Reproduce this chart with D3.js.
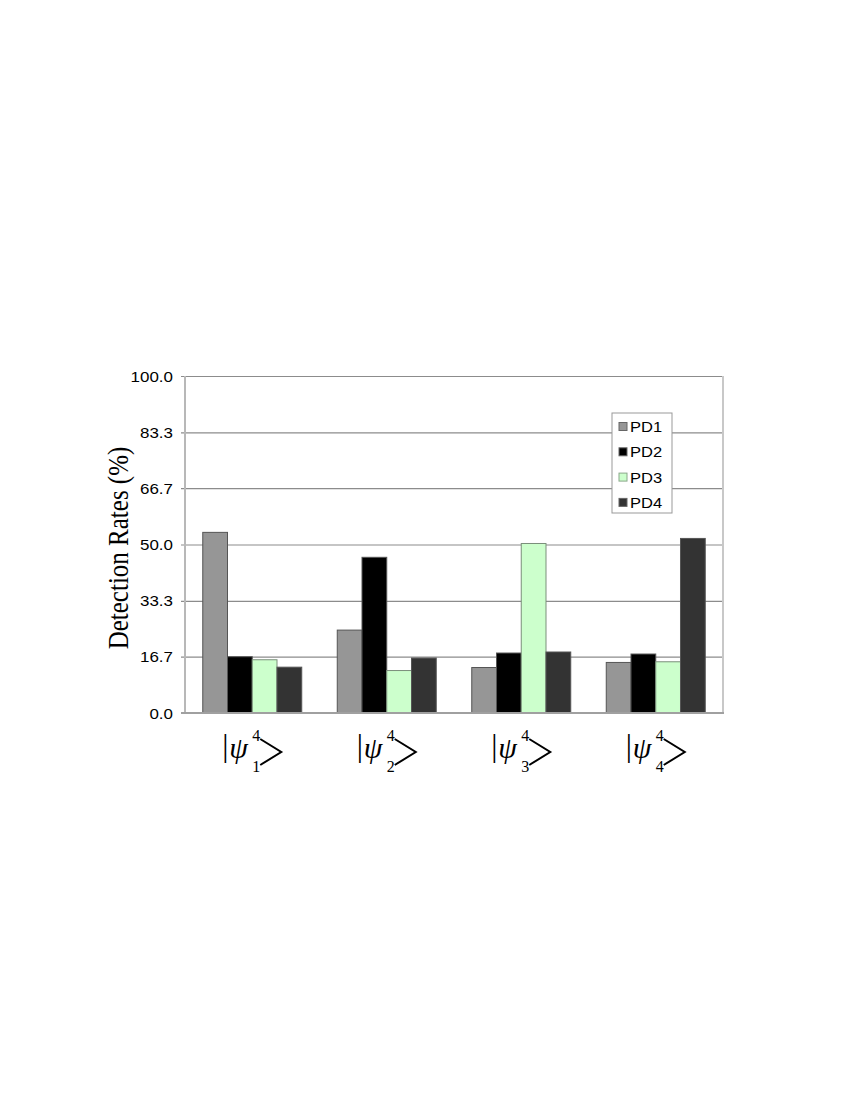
<!DOCTYPE html>
<html>
<head>
<meta charset="utf-8">
<script src="https://cdn.jsdelivr.net/npm/d3@7"></script>
<style>
  body { margin: 0; background: #fff; }
  .tick-label { font-family: "Liberation Sans", Arial, sans-serif; font-size: 15px; fill: #000; }
  .legend-label { font-family: "Liberation Sans", Arial, sans-serif; font-size: 14px; fill: #000; }
  .ket { font-family: "Liberation Serif", "Times New Roman", serif; fill: #000; }
</style>
</head>
<body>
<div id="chart"></div>
<script>
// data
var states = ["1", "2", "3", "4"];
var seriesNames = ["PD1", "PD2", "PD3", "PD4"];
var pd1 = [53.6, 24.6, 13.5, 15.0];
var pd2 = [16.7, 46.2, 17.8, 17.5];
var pd3 = [15.8, 12.6, 50.3, 15.2];
var pd4 = [13.6, 16.3, 18.1, 51.8];
var yTickValues = [0, 16.7, 33.3, 50.0, 66.7, 83.3, 100.0];
var colors = ["#969696", "#000000", "#ccffcc", "#333333"];

DrawChart();

function DrawChart(){
  var fullWidth = 850, fullHeight = 1100;
  // plot area
  var left = 185, right = 723, top = 376, bottom = 713;

  var svg = d3.select("#chart").append("svg")
      .attr("width", fullWidth)
      .attr("height", fullHeight);

  svg.append("rect").attr("width", fullWidth).attr("height", fullHeight).attr("fill", "#fff");

  var allSeries = [pd1, pd2, pd3, pd4];

  var x0 = d3.scaleBand().domain(states).range([left, right])
      .paddingInner(0.264).paddingOuter(0.132);
  var x1 = d3.scaleBand().domain(seriesNames).range([0, x0.bandwidth()]);
  var y = d3.scaleLinear().domain([0, 100]).range([bottom, top]);

  // gridlines
  var yAxis = d3.axisLeft(y).tickValues(yTickValues)
      .tickSize(-(right - left) - 4).tickFormat("");
  var ga = svg.append("g").attr("transform", "translate(" + (left - 4) + ",0)").call(yAxis);
  ga.select(".domain").remove();
  ga.selectAll(".tick line").attr("stroke", "#8c8c8c").attr("stroke-width", 1.2);

  // tick labels (a bit wider than the font, like the source)
  svg.append("g").selectAll("text")
     .data(yTickValues)
     .enter().append("text")
     .attr("class", "tick-label")
     .attr("text-anchor", "end")
     .attr("transform", function(d){ return "translate(173," + (y(d) + 5.5) + ") scale(1.13,1)"; })
     .text(function(d){ return d3.format(".1f")(d); });

  // bars
  var groups = svg.append("g").selectAll("g")
      .data(states).enter().append("g")
      .attr("transform", function(d){ return "translate(" + x0(d) + ",0)"; });

  groups.selectAll("rect")
      .data(function(d, i){ return seriesNames.map(function(s, j){ return {s: s, v: allSeries[j][i], j: j}; }); })
      .enter().append("rect")
      .attr("x", function(d){ return x1(d.s); })
      .attr("y", function(d){ return y(d.v); })
      .attr("width", x1.bandwidth())
      .attr("height", function(d){ return bottom - y(d.v); })
      .attr("fill", function(d){ return colors[d.j]; })
      .attr("stroke", function(d){ return d.j == 2 ? "#7a8f7a" : "#555"; })
      .attr("stroke-width", 1);

  // frame lines
  svg.append("line").attr("x1", left).attr("x2", left).attr("y1", top).attr("y2", bottom)
     .attr("stroke", "#b8b8b8").attr("stroke-width", 2);
  svg.append("line").attr("x1", right).attr("x2", right).attr("y1", top).attr("y2", bottom)
     .attr("stroke", "#c8c8c8").attr("stroke-width", 2);
  svg.append("line").attr("x1", left - 4).attr("x2", right + 1).attr("y1", bottom).attr("y2", bottom)
     .attr("stroke", "#a0a0a0").attr("stroke-width", 2);

  // y title
  svg.append("text")
     .attr("class", "ket")
     .attr("transform", "translate(128,548) rotate(-90) scale(1,1.15)")
     .attr("text-anchor", "middle")
     .style("font-size", "25px")
     .text("Detection Rates (%)");

  // ket labels under each group
  var labels = svg.append("g").selectAll("g")
      .data(states).enter().append("g")
      .attr("transform", function(d){ return "translate(" + (x0(d) + x0.bandwidth() / 2) + ",0)"; });

  labels.append("text").attr("class", "ket").attr("x", -30).attr("y", 756)
      .style("font-size", "31px").text("|");
  labels.append("text").attr("class", "ket").attr("x", -23).attr("y", 758)
      .style("font-size", "30px").style("font-style", "italic").text("\u03c8");
  labels.append("text").attr("class", "ket").attr("x", 0).attr("y", 741)
      .style("font-size", "16px").text("4");
  labels.append("text").attr("class", "ket").attr("x", 0).attr("y", 772)
      .style("font-size", "16px").text(function(d){ return d; });
  labels.append("path")
      .attr("d", "M8,739 L29,752 L8,765")
      .attr("fill", "none").attr("stroke", "#000").attr("stroke-width", 2);

  // legend
  var legend = svg.append("g");
  legend.append("rect").attr("x", 612).attr("y", 413).attr("width", 60).attr("height", 100)
     .attr("fill", "#fff").attr("stroke", "#999").attr("stroke-width", 1);
  var items = legend.selectAll("g.item").data(seriesNames).enter().append("g")
     .attr("class", "item")
     .attr("transform", function(d, i){ return "translate(0," + (427 + i * 25.3) + ")"; });
  items.append("rect").attr("x", 619).attr("y", -4.5).attr("width", 8).attr("height", 8)
     .attr("fill", function(d, i){ return colors[i]; })
     .attr("stroke", function(d, i){ return i == 2 ? "#8aa88a" : "#666"; }).attr("stroke-width", 1);
  items.append("text").attr("class", "legend-label")
     .attr("transform", "translate(630,5) scale(1.18,1)")
     .text(function(d){ return d; });
}
</script>
</body>
</html>
